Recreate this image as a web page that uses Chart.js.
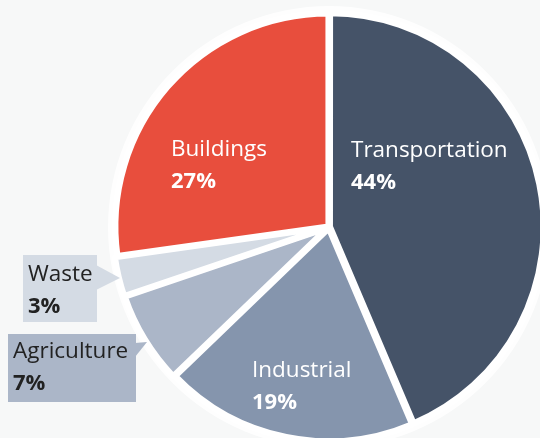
<!DOCTYPE html>
<html>
<head>
<meta charset="utf-8">
<script src="https://cdn.jsdelivr.net/npm/chart.js@4.4.1/dist/chart.umd.min.js"></script>
<style>
  html, body { margin: 0; padding: 0; background: #f7f8f8; }
  #wrap { width: 540px; height: 438px; position: relative; }
</style>
</head>
<body>
<div id="wrap"><canvas id="emissions"></canvas></div>
<script>
// data (slice sizes, labels show rounded values)
const categories = ["Transportation", "Industrial", "Agriculture", "Waste", "Buildings"];
const shares = [43.6, 19.2, 7.0, 3.0, 27.2];
const colors = ["#455368", "#8595ad", "#abb6c8", "#d4dbe4", "#e84e3d"];
const offsets = [4, 5, 7, 7, 3];

// label placement, relative to the pie centre (px)
// box: [left, top, right, bottom], tip: pointer end, base: pointer base y range
const labelLayout = [
    { x: 22, y: -76, color: "#ffffff" },
    { x: -77, y: 144, color: "#ffffff" },
    { x: -316, y: 125, color: "#222222", box: [-321, 107, -193, 175], tip: [-182, 115], base: [116, 130] },
    { x: -301, y: 48, color: "#222222", box: [-306, 28, -232, 95], tip: [-209, 51], base: [38, 63] },
    { x: -158, y: -77, color: "#ffffff" },
];

const ringPlugin = {
    id: "ring",
    beforeDatasetsDraw(chart) {
        const arc = chart.getDatasetMeta(0).data[0];
        if (!arc) return;
        const ctx = chart.ctx;
        ctx.save();
        ctx.beginPath();
        ctx.arc(arc.x, arc.y, arc.outerRadius + 8, 0, Math.PI * 2);
        ctx.fillStyle = "rgba(255,255,255,0.85)";
        ctx.fill();
        ctx.restore();
    },
};

const labelPlugin = {
    id: "sliceLabels",
    afterDatasetsDraw(chart) {
        const arc = chart.getDatasetMeta(0).data[0];
        const cx = arc.x, cy = arc.y;
        const ctx = chart.ctx;
        ctx.save();
        labelLayout.forEach((lab, i) => {
            if (lab.box) {
                const [l, t, r, b] = lab.box;
                ctx.fillStyle = colors[i];
                ctx.fillRect(cx + l, cy + t, r - l, b - t);
                ctx.beginPath();
                ctx.moveTo(cx + r - 1, cy + lab.base[0]);
                ctx.lineTo(cx + lab.tip[0], cy + lab.tip[1]);
                ctx.lineTo(cx + r - 1, cy + lab.base[1]);
                ctx.closePath();
                ctx.fill();
            }
            ctx.fillStyle = lab.color;
            ctx.textAlign = "left";
            ctx.textBaseline = "middle";
            ctx.font = "400 22.5px 'Open Sans'";
            ctx.fillText(categories[i], cx + lab.x, cy + lab.y);
            ctx.font = "700 22px 'Open Sans'";
            ctx.fillText(Math.round(shares[i]) + "%", cx + lab.x, cy + lab.y + 32);
        });
        ctx.restore();
    },
};

new Chart(document.getElementById("emissions"), {
    type: "pie",
    data: {
        labels: categories,
        datasets: [
            {
                data: shares,
                backgroundColor: colors,
                borderColor: "#ffffff",
                borderWidth: 6,
                offset: offsets,
                clip: false,
            },
        ],
    },
    options: {
        responsive: true,
        maintainAspectRatio: false,
        animation: false,
        radius: 213,
        layout: { padding: { left: 118, right: 0, top: 16, bottom: 0 } },
        events: [],
        plugins: {
            legend: { display: false },
            tooltip: { enabled: false },
        },
    },
    plugins: [ringPlugin, labelPlugin],
});
</script>
</body>
</html>
